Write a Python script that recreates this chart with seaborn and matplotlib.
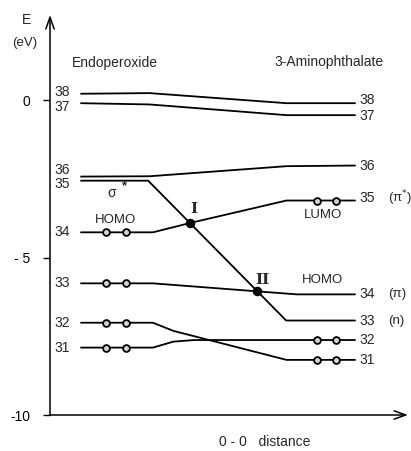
import numpy as np
import pandas as pd
import seaborn as sns
import matplotlib.pyplot as plt

# MO correlation diagram: each line follows one orbital from the
# endoperoxide (left) to 3-aminophthalate (right) along the O-O distance
left_mo = [38, 37, 36, 35, 34, 33, 32, 31]
right_mo = [38, 37, 36, 33, 35, 34, 31, 32]
line_x = [
    [0, 2, 6, 8],
    [0, 2, 6, 8],
    [0, 2, 6, 8],
    [0, 1.96, 5.99, 8],
    [0, 2.1, 3.2, 6, 8],
    [0, 2.1, 6.3, 8],
    [0, 2.1, 2.7, 6, 8],
    [0, 2.1, 2.7, 3.3, 8],
]
line_E = [
    [0.2, 0.22, -0.1, -0.1],
    [-0.1, -0.14, -0.48, -0.48],
    [-2.43, -2.42, -2.1, -2.08],
    [-2.56, -2.56, -7.0, -7.0],
    [-4.2, -4.2, -3.9, -3.19, -3.19],
    [-5.82, -5.82, -6.17, -6.17],
    [-7.07, -7.07, -7.33, -8.25, -8.25],
    [-7.86, -7.86, -7.67, -7.62, -7.62],
]

# occupied orbitals (two electrons drawn as dots)
occ_left = [34, 33, 32, 31]
occ_right = [35, 32, 31]
dot_x_left = [0.73, 1.31]
dot_x_right = [6.9, 7.45]

right_tag = {35: "(π$^{*}$)", 34: "(π)", 33: "(n)"}

y_ticks = [-10, -5, 0]
y_ticklabels = ["-10", "- 5", "0"]

# --- data frames
rows = []
for mo, xs, Es in zip(left_mo, line_x, line_E):
    for x, E in zip(xs, Es):
        rows.append({"mo": mo, "x": x, "E": E})
lines = pd.DataFrame(rows)

E_left = {mo: Es[0] for mo, Es in zip(left_mo, line_E)}
E_right = {mo: Es[-1] for mo, Es in zip(right_mo, line_E)}

dots = pd.DataFrame(
    [{"x": x, "E": E_left[m]} for m in occ_left for x in dot_x_left]
    + [{"x": x, "E": E_right[m]} for m in occ_right for x in dot_x_right]
)


def crossing(a, b):
    xs = np.linspace(0, 8, 8001)
    ea = np.interp(xs, line_x[a], line_E[a])
    eb = np.interp(xs, line_x[b], line_E[b])
    k = np.where(np.diff(np.sign(ea - eb)) != 0)[0][0]
    return xs[k], ea[k]


cross_I = crossing(3, 4)
cross_II = crossing(3, 5)

# --- plot
sns.set_theme(style="white")
plt.rcParams["font.family"] = ["Liberation Sans", "DejaVu Sans"]
plt.rcParams["axes.unicode_minus"] = False

fig = plt.figure(figsize=(4.11, 4.51), dpi=100)
ax = fig.add_axes([50 / 411, 36 / 451, 358 / 411, 400 / 451])

sns.lineplot(data=lines, x="x", y="E", units="mo", estimator=None, sort=False,
             color="black", lw=1.3, ax=ax, legend=False)
sns.scatterplot(data=dots, x="x", y="E", s=24, color="#d2d2d2",
                edgecolor="black", linewidth=1.3, zorder=3, ax=ax)
ax.scatter([cross_I[0], cross_II[0]], [cross_I[1], cross_II[1]],
           s=34, color="black", zorder=4)

ax.set_xlim(-0.905, 9.547)
ax.set_ylim(-10, 2.7)
sns.despine(ax=ax, left=True, bottom=True)
ax.set_xticks([])
ax.set_yticks(y_ticks)
ax.set_yticklabels(y_ticklabels)
ax.tick_params(axis="y", left=True, length=5, width=1, pad=9, labelsize=10,
               colors="black")
ax.set_xlabel("")
ax.set_ylabel("")

# axes with arrow heads
arr = dict(arrowstyle="->,head_length=0.7,head_width=0.25", lw=1.1, color="black",
           shrinkA=0, shrinkB=0)
ax.annotate("", xy=(0, 1), xytext=(0, 0), xycoords="axes fraction", arrowprops=arr)
ax.annotate("", xy=(1, 0), xytext=(0, 0), xycoords="axes fraction", arrowprops=arr)

# orbital numbers
left_off = {38: 1.5, 37: -3.0, 36: 5.0, 35: -2.5}
for mo in left_mo:
    ax.annotate(str(mo), (-0.79, E_left[mo]), xytext=(0, left_off.get(mo, 0)),
                textcoords="offset points", ha="left", va="center", fontsize=10)
right_off = {38: 2, 37: -0.5, 35: 1.5}
for mo in right_mo:
    ax.annotate(str(mo), (8.12, E_right[mo]), xytext=(0, right_off.get(mo, 0)),
                textcoords="offset points", ha="left", va="center",
                fontsize=10, annotation_clip=False)
    if mo in right_tag:
        ax.annotate(right_tag[mo], (8.96, E_right[mo]), xytext=(0, right_off.get(mo, 0)),
                    textcoords="offset points", ha="left", va="center",
                    fontsize=9.5, annotation_clip=False)

ax.text(-0.26, 1.17, "Endoperoxide", ha="left", va="center", fontsize=10)
ax.text(5.66, 1.2, "3-Aminophthalate", ha="left", va="center", fontsize=10)
ax.text(0.9, -2.95, "σ", ha="center", va="center", fontsize=10)
ax.text(1.26, -2.75, "*", ha="center", va="center", fontsize=9, fontweight="bold")
ax.text(1.02, -3.81, "HOMO", ha="center", va="center", fontsize=9.5)
ax.text(7.07, -3.64, "LUMO", ha="center", va="center", fontsize=9.5)
ax.text(7.04, -5.71, "HOMO", ha="center", va="center", fontsize=9.5)
ax.annotate("I", cross_I, xytext=(2.5, 10), textcoords="offset points",
            ha="center", va="center", fontsize=11, family="DejaVu Serif", fontweight="bold")
ax.annotate("II", cross_II, xytext=(4, 8.5), textcoords="offset points",
            ha="center", va="center", fontsize=11, family="DejaVu Serif", fontweight="bold")

ax.text(-1.58, 2.55, "E", ha="center", va="center", fontsize=10, clip_on=False)
ax.text(-1.64, 1.8, "(eV)", ha="center", va="center", fontsize=9.5, clip_on=False)
ax.text(5.37, -10.85, "0 - 0   distance", ha="center", va="center", fontsize=10,
        clip_on=False)

fig.savefig("out.png", dpi=100)
